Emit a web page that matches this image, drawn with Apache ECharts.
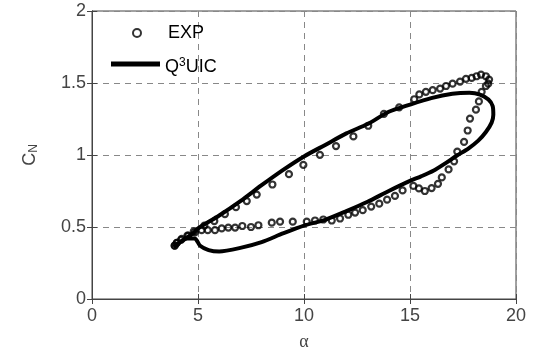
<!DOCTYPE html>
<html><head><meta charset="utf-8">
<script src="https://cdn.jsdelivr.net/npm/echarts@6/dist/echarts.min.js"></script>
<style>html,body{margin:0;padding:0;background:#fff}#c{width:537px;height:356px}</style>
</head><body><div id="c"></div>
<script>
// Experimental data (alpha, CN) ordered around the hysteresis loop
const expAlpha = [3.9,4.0,4.2,4.5,4.8,5.3,5.77,6.27,6.79,7.30,7.77,8.51,9.29,9.97,10.75,11.51,12.33,13.03,13.77,14.49,15.2,15.44,15.75,16.07,16.42,16.7,17.01,17.36,17.64,17.91,18.14,18.35,18.58,18.73,18.69,18.58,18.38,18.25,18.11,17.83,17.72,17.55,17.23,17.08,16.82,16.5,16.32,16.02,15.7,15.42,15.16,14.65,14.29,13.92,13.55,13.17,12.77,12.41,12.09,11.7,11.31,10.91,10.52,10.13,9.47,8.87,8.48,7.85,7.5,7.09,6.75,6.43,6.12,5.8,5.46,5.17,4.86,4.54,4.23,4.0,3.9];
const expCN    = [0.37,0.39,0.41,0.44,0.47,0.51,0.541,0.59,0.638,0.68,0.725,0.795,0.867,0.931,1.001,1.062,1.129,1.203,1.286,1.331,1.387,1.421,1.439,1.45,1.461,1.479,1.495,1.51,1.529,1.535,1.547,1.558,1.547,1.524,1.495,1.479,1.439,1.372,1.315,1.253,1.17,1.091,1.024,0.956,0.9,0.844,0.8,0.77,0.75,0.768,0.785,0.754,0.716,0.69,0.662,0.642,0.617,0.6,0.585,0.559,0.545,0.552,0.545,0.537,0.537,0.537,0.53,0.512,0.5,0.507,0.496,0.496,0.49,0.478,0.478,0.478,0.463,0.44,0.418,0.39,0.37];
// Q3UIC model loop
const modAlpha = [3.85,4.3,4.8,5,6,7,8,9,10,11,12,13,14,15,16,17,17.8,18.3,18.7,18.9,18.93,18.85,18.58,18.22,17.75,17.2,16.7,16.1,15.5,15,14,13,12,11,10,9,8,7,6,5.5,5.1,4.85,4.5,4.1,3.85];
const modCN    = [0.36,0.41,0.46,0.49,0.58,0.68,0.79,0.895,0.99,1.07,1.15,1.215,1.30,1.35,1.395,1.425,1.432,1.42,1.385,1.34,1.28,1.225,1.16,1.10,1.045,0.995,0.945,0.89,0.85,0.82,0.75,0.675,0.61,0.55,0.51,0.455,0.395,0.355,0.33,0.34,0.37,0.42,0.42,0.39,0.36];
const xTicks = [0,5,10,15,20];
const yTicks = [0,0.5,1,1.5,2];

const expData = expAlpha.map((a,i)=>[a,expCN[i]]);
const modData = modAlpha.map((a,i)=>[a,modCN[i]]);
const tickColor = '#444';
const gridLine = {show:true, lineStyle:{color:'#888', type:[6,5], width:1}};
const rich = {n:{fontFamily:'Liberation Sans, Arial',fontSize:18,color:'#000'}, s:{fontFamily:'Liberation Sans, Arial',fontSize:12,color:'#000',verticalAlign:'bottom',padding:[0,0,8,0]}};
const chart = echarts.init(document.getElementById('c'));
chart.setOption({
  animation:false,
  grid:{left:92,right:21,top:11,bottom:49,show:true,borderColor:'#444',borderWidth:1},
  legend:[{
    left:127, top:19, itemWidth:8, itemHeight:8,
    textStyle:{fontFamily:'Liberation Sans, Arial', fontSize:18, color:'#000', padding:[0,0,0,22]},
    data:[{name:'EXP'}]
  },{
    left:106, top:52, itemWidth:49, itemHeight:5,
    textStyle:{fontFamily:'Liberation Sans, Arial', fontSize:18, color:'#000', padding:[6,0,0,0], rich:rich},
    formatter: n => '{n|Q}{s|3}{n|UIC}',
    data:[{name:'Q3UIC',icon:'rect',itemStyle:{color:'#000'}}]
  }],
  xAxis:[{type:'value',min:0,max:20,interval:5,
    axisLine:{show:true,onZero:false,lineStyle:{color:tickColor}},
    axisTick:{show:true,inside:true,length:5,lineStyle:{color:tickColor}},
    axisLabel:{color:tickColor,fontSize:18,fontFamily:'Liberation Sans, Arial',margin:8},
    splitLine:gridLine,
    name:'α',nameLocation:'middle',nameGap:34,
    nameTextStyle:{fontFamily:'Liberation Serif, Times New Roman',fontSize:18,color:tickColor}},
   {type:'value',position:'top',min:0,max:20,interval:5,axisLine:{show:true,lineStyle:{color:tickColor}},
    axisTick:{show:true,inside:true,length:5,lineStyle:{color:tickColor}},axisLabel:{show:false},splitLine:{show:false}}],
  yAxis:[{type:'value',min:0,max:2,interval:0.5,
    axisLine:{show:true,onZero:false,lineStyle:{color:tickColor}},
    axisTick:{show:true,inside:true,length:5,lineStyle:{color:tickColor}},
    axisLabel:{color:tickColor,fontSize:18,fontFamily:'Liberation Sans, Arial',margin:6},
    splitLine:gridLine,
    name:'{c|C}{s|N}',nameLocation:'middle',nameGap:52,
    nameTextStyle:{color:tickColor,rich:{c:{fontFamily:'Liberation Sans, Arial',fontSize:18,color:tickColor},s:{fontFamily:'Liberation Sans, Arial',fontSize:12,color:tickColor,verticalAlign:'top',padding:[8,0,0,0]}}}},
   {type:'value',position:'right',min:0,max:2,interval:0.5,axisLine:{show:true,lineStyle:{color:tickColor}},
    axisTick:{show:true,inside:true,length:5,lineStyle:{color:tickColor}},axisLabel:{show:false},splitLine:{show:false}}],
  series:[
    {name:'EXP',type:'scatter',data:expData,symbol:'circle',symbolSize:6,z:2,
     itemStyle:{color:'rgba(255,255,255,0)',borderColor:'#000',borderWidth:2.2}},
    {name:'Q3UIC',type:'line',data:modData,symbol:'none',showSymbol:false,z:3,smooth:0.25,
     lineStyle:{color:'#000',width:4},itemStyle:{color:'#000'}}
  ]
});
</script></body></html>
